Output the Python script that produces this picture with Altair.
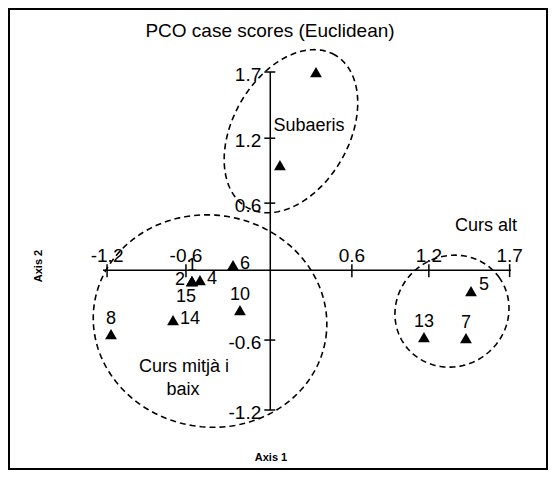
import numpy as np
import pandas as pd
import altair as alt

# ---------------- data ----------------
X_DOMAIN = [-1.23, 1.77]
Y_DOMAIN = [-1.2, 1.7]

POINT_ID = ["", "", "1", "2", "15", "4", "6", "10", "14", "8", "5", "13", "7"]
POINT_X = [0.336, 0.071, -0.576, -0.576, -0.576, -0.517, -0.274, -0.223, -0.715, -1.171, 1.476, 1.130, 1.439]
POINT_Y = [1.698, 0.900, -0.094, -0.094, -0.094, -0.086, 0.043, -0.343, -0.429, -0.549, -0.180, -0.575, -0.583]
LABEL_SIDE = ["none", "none", "top", "left", "below", "right", "right", "top", "right", "top", "upright", "top", "top"]

XTICK_POS = [-1.2, -0.62, 0.60, 1.166, 1.76]
XTICK_LABELS = ["-1.2", "-0.6", "0.6", "1.2", "1.7"]
YTICK_POS = [1.70, 1.132, 0.575, -0.60, -1.20]
YTICK_LABELS = ["1.7", "1.2", "0.6", "-0.6", "-1.2"]

GROUP_NAMES = ["Subaeris", "Curs alt", "Curs mitjà i", "baix"]
GROUP_X = [0.285, 1.586, -0.634, -0.642]
GROUP_Y = [1.235, 0.377, -0.832, -1.029]

ELLIPSE_CX = [0.152, -0.443, 1.336]
ELLIPSE_CY = [1.192, -0.437, -0.352]
ELLIPSE_A_PX = [88, 117, 58]
ELLIPSE_B_PX = [58, 106, 55]
ELLIPSE_ANGLE = [60, -8, 35]

TITLE = "PCO case scores (Euclidean)"
XTITLE = "Axis 1"
YTITLE = "Axis 2"

# ---------------- layout ----------------
W, H = 408, 338
PAD = {"left": 95, "top": 64, "right": 38, "bottom": 61}
FONT = "Liberation Sans"
SX = W / (X_DOMAIN[1] - X_DOMAIN[0])
SY = H / (Y_DOMAIN[1] - Y_DOMAIN[0])

xs = alt.Scale(domain=X_DOMAIN, nice=False, zero=False)
ys = alt.Scale(domain=Y_DOMAIN, nice=False, zero=False)


def X(f):
    return alt.X(f, type="quantitative", scale=xs, axis=None)


def Y(f):
    return alt.Y(f, type="quantitative", scale=ys, axis=None)


points = pd.DataFrame({"id": POINT_ID, "x": POINT_X, "y": POINT_Y, "side": LABEL_SIDE})
xt = pd.DataFrame({"pos": XTICK_POS, "lab": XTICK_LABELS, "zero": 0.0})
yt = pd.DataFrame({"pos": YTICK_POS, "lab": YTICK_LABELS, "zero": 0.0})
groups = pd.DataFrame({"name": GROUP_NAMES, "x": GROUP_X, "y": GROUP_Y})
axes = pd.DataFrame({"x": [X_DOMAIN[0], 0.0], "x2": [X_DOMAIN[1], 0.0],
                     "y": [0.0, Y_DOMAIN[0]], "y2": [0.0, Y_DOMAIN[1]]})

rows = []
t = np.linspace(0, 2 * np.pi, 241)
for g, (cx, cy, a, b, ang) in enumerate(zip(ELLIPSE_CX, ELLIPSE_CY, ELLIPSE_A_PX, ELLIPSE_B_PX, ELLIPSE_ANGLE)):
    th = np.deg2rad(ang)
    u, v = a * np.cos(t), b * np.sin(t)
    dx = u * np.cos(th) - v * np.sin(th)
    dy = u * np.sin(th) + v * np.cos(th)
    for i in range(len(t)):
        rows.append({"g": g, "o": i, "x": cx + dx[i] / SX, "y": cy + dy[i] / SY})
ell = pd.DataFrame(rows)

one = pd.DataFrame({"a": [0]})

border = alt.Chart(one).mark_rect(filled=False, stroke="black", strokeWidth=2).encode(
    x=alt.value(-94), x2=alt.value(W + PAD["right"] - 2), y=alt.value(-63), y2=alt.value(H + PAD["bottom"] - 2)
)

axis_lines = alt.Chart(axes).mark_rule(color="black", strokeWidth=1.5).encode(
    x=X("x"), x2="x2", y=Y("y"), y2="y2"
)

xticks = alt.Chart(xt).mark_rule(color="black", strokeWidth=1.5, yOffset=-6, y2Offset=7).encode(
    x=X("pos"), y=Y("zero"), y2="zero"
)
yticks = alt.Chart(yt).mark_rule(color="black", strokeWidth=1.5, xOffset=-6, x2Offset=5).encode(
    y=Y("pos"), x=X("zero"), x2="zero"
)

xlabels = alt.Chart(xt).mark_text(font=FONT, fontSize=19, dy=-14, align="center", baseline="middle").encode(
    x=X("pos"), y=Y("zero"), text="lab"
)
ylabels = alt.Chart(yt).mark_text(font=FONT, fontSize=19, dx=-9, dy=3, align="right", baseline="middle").encode(
    x=X("zero"), y=Y("pos"), text="lab"
)

ellipses = alt.Chart(ell).mark_line(color="black", strokeWidth=1.6, strokeDash=[6, 4]).encode(
    x=X("x"), y=Y("y"), detail="g:N", order="o:Q"
)

marks = alt.Chart(points).mark_point(shape="triangle-up", filled=True, size=140, color="black", opacity=1).encode(
    x=X("x"), y=Y("y")
)

offsets = {
    "top": dict(dx=0, dy=-15, align="center"),
    "left": dict(dx=-7, dy=-1, align="right"),
    "below": dict(dx=-6, dy=16, align="center"),
    "right": dict(dx=7, dy=-1, align="left"),
    "upright": dict(dx=8, dy=-6, align="left"),
}
label_layers = []
for side, o in offsets.items():
    label_layers.append(
        alt.Chart(points).transform_filter(alt.datum.side == side).mark_text(
            font=FONT, fontSize=18, baseline="middle", **o
        ).encode(x=X("x"), y=Y("y"), text="id")
    )

group_text = alt.Chart(groups).mark_text(font=FONT, fontSize=18, align="center", baseline="middle").encode(
    x=X("x"), y=Y("y"), text="name"
)

title = alt.Chart(one).mark_text(font=FONT, fontSize=19, align="center", baseline="middle", text=TITLE).encode(
    x=alt.value(167), y=alt.value(-41)
)
xtitle = alt.Chart(one).mark_text(font=FONT, fontSize=11, fontWeight="bold", align="center", baseline="middle", text=XTITLE).encode(
    x=alt.value(168), y=alt.value(386)
)
ytitle = alt.Chart(one).mark_text(font=FONT, fontSize=11, fontWeight="bold", align="center", baseline="middle", angle=270, text=YTITLE).encode(
    x=alt.value(-64), y=alt.value(194)
)

chart = alt.layer(
    border, ellipses, axis_lines, xticks, yticks, xlabels, ylabels, marks, *label_layers, group_text, title, xtitle, ytitle
).properties(
    width=W, height=H, padding=PAD, autosize=alt.AutoSizeParams(type="none"), background="white"
).configure_view(stroke=None)

chart.save("out.html", embed_options={"renderer": "svg", "actions": False})
